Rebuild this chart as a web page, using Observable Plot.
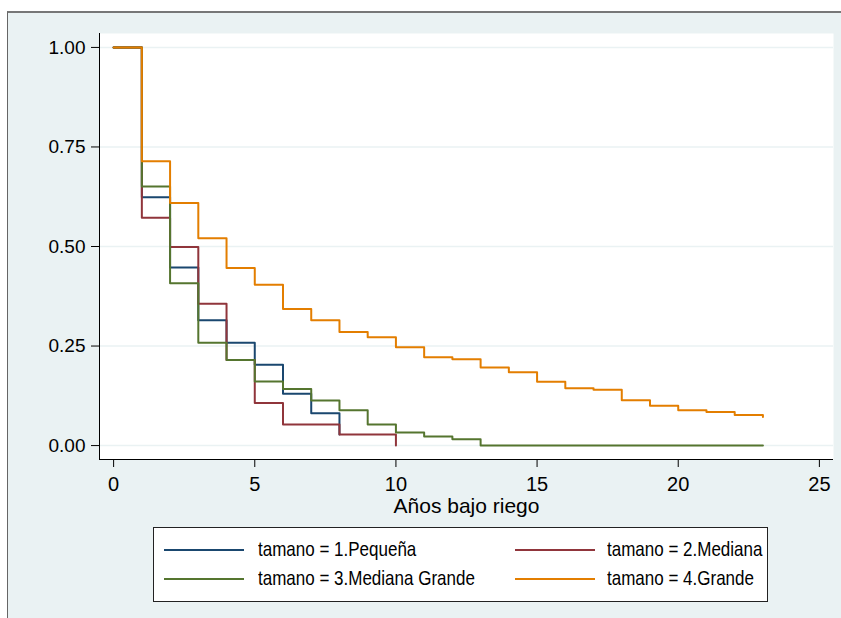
<!DOCTYPE html>
<html><head><meta charset="utf-8">
<script src="https://cdn.jsdelivr.net/npm/d3@7"></script>
<script src="https://cdn.jsdelivr.net/npm/@observablehq/plot@0.6"></script>
<style>
body{margin:0;width:841px;height:618px;overflow:hidden;background:#fff;font-family:"Liberation Sans",Arial,sans-serif;position:relative;}
#page{position:absolute;left:7px;top:11px;width:840px;height:620px;background:#EAF2F3;border-left:1.5px solid #666;border-top:2px solid #777;}
#chart{position:absolute;left:0;top:0;}
#legend{position:absolute;left:153px;top:527px;width:615px;height:75px;box-sizing:border-box;background:#fff;border:1px solid #222;}
.entry{position:absolute;font-size:17px;color:#000;line-height:20px;white-space:nowrap;transform:scaleY(1.18);transform-origin:left center;}
.sw{position:absolute;height:2px;width:80px;}
</style>
</head><body>
<div id="page"></div>
<div id="chart"></div>
<div id="legend"></div>
<script>
const groups = ["tamano = 1.Pequeña","tamano = 2.Mediana","tamano = 3.Mediana Grande","tamano = 4.Grande"];
const colors = ["#1A476F","#90353B","#55752F","#E37E00"];

const timesPequena = [0,1,2,3,4,5,6,7,8];
const survPequena  = [1,0.624,0.447,0.315,0.258,0.203,0.130,0.081,0.028];

const timesMediana = [0,1,2,3,4,5,6,7,8,9,10];
const survMediana  = [1,0.572,0.499,0.356,0.215,0.107,0.053,0.053,0.028,0.028,0];

const timesMedGrande = [0,1,2,3,4,5,6,7,8,9,10,11,12,13,23];
const survMedGrande  = [1,0.651,0.408,0.258,0.215,0.161,0.142,0.113,0.089,0.053,0.033,0.023,0.016,0,0];

const timesGrande = [0,1,2,3,4,5,6,7,8,9,10,11,12,13,14,15,16,17,18,19,20,21,22,23];
const survGrande  = [1,0.714,0.609,0.521,0.446,0.404,0.343,0.315,0.285,0.272,0.247,0.222,0.217,0.196,0.184,0.160,0.144,0.140,0.114,0.100,0.089,0.084,0.077,0.072];

const xTicks = [0,5,10,15,20,25];
const yTicks = [0,0.25,0.5,0.75,1];
const xDomain = [-0.5,25.5];
const yDomain = [-0.035,1.035];
const xLabel = "Años bajo riego";

const series = [
  [timesPequena, survPequena],
  [timesMediana, survMediana],
  [timesMedGrande, survMedGrande],
  [timesGrande, survGrande]
];
const rows = [];
series.forEach(([ts, ss], i) => ts.forEach((t, j) => rows.push({group: groups[i], t, s: ss[j]})));

const chart = Plot.plot({
  width: 841, height: 520,
  marginLeft: 99, marginRight: 8, marginTop: 33, marginBottom: 61,
  style: {background: "transparent", fontFamily: "'Liberation Sans', Arial, sans-serif", overflow: "visible", color: "#000"},
  x: {domain: xDomain},
  y: {domain: yDomain},
  color: {domain: groups, range: colors},
  marks: [
    Plot.frame({fill: "white", stroke: "none"}),
    Plot.ruleY(yTicks, {stroke: "#EAF2F3", strokeWidth: 1.5}),
    Plot.line(rows, {x: "t", y: "s", z: "group", stroke: "group", curve: "step-after", strokeWidth: 2}),
    Plot.ruleX([xDomain[0]], {stroke: "#000", strokeWidth: 1}),
    Plot.ruleY([yDomain[0]], {stroke: "#000", strokeWidth: 1}),
    Plot.axisY({ticks: yTicks, tickFormat: d3.format(".2f"), tickSize: 8, tickPadding: 6, fontSize: 19, label: null}),
    Plot.axisX({ticks: xTicks, tickSize: 8, tickPadding: 9, fontSize: 20, label: null}),
    Plot.axisX({ticks: [], tickSize: 0, fontSize: 21, label: xLabel, labelAnchor: "center", labelOffset: 53, labelArrow: "none"})
  ]
});
document.getElementById("chart").appendChild(chart);

const legend = document.getElementById("legend");
const pos = [[10,104,22],[361,453,22],[10,104,51],[361,453,51]];
groups.forEach((g, i) => {
  const [sx, tx, cy] = pos[i];
  const sw = document.createElement("div");
  sw.className = "sw";
  sw.style.left = sx + "px"; sw.style.top = (cy - 1) + "px"; sw.style.background = colors[i];
  legend.appendChild(sw);
  const t = document.createElement("div");
  t.className = "entry";
  t.style.left = tx + "px"; t.style.top = (cy - 10) + "px";
  t.textContent = g;
  legend.appendChild(t);
});
</script>
</body></html>
